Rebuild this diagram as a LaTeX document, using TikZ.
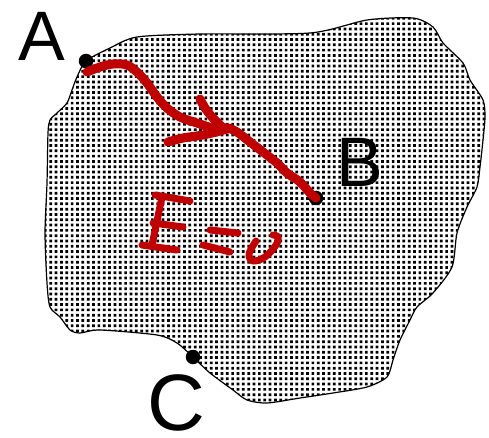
\documentclass[tikz,border=0pt]{standalone}
\usepackage{fontspec}
\setmainfont{Liberation Sans}
\definecolor{ink}{RGB}{192,0,0}
\begin{document}
\begin{tikzpicture}[x=1pt,y=-1pt,
  redink/.style={draw=ink,line width=9pt,line cap=round,line join=round},
  redpen/.style={draw=ink,line width=7pt,line cap=round,line join=round},
  dotpt/.style={circle,fill=black,inner sep=0pt,minimum size=14.5pt},
  lbl/.style={font=\fontsize{70}{80}\selectfont,anchor=base,inner sep=0pt,text depth=0pt}]
\useasboundingbox (0,0) rectangle (489,438);
\def\blob{plot[smooth cycle,tension=0.45] coordinates{
  (86,61) (110,48) (137,37) (200,34) (310,33) (367,20) (413,18) (433,27)
  (443,43) (463,63) (470,80) (483,100) (485,117) (483,140) (480,167)
  (477,187) (467,207) (457,233) (452,267) (433,293) (417,307) (410,320)
  (400,340) (393,360) (387,377) (367,387) (333,393) (300,398) (267,403)
  (247,400) (233,390) (210,373) (193,357) (177,343) (157,335) (100,330)
  (80,333) (70,330) (60,317) (50,307) (47,283) (45,233) (47,183) (48,133)
  (50,120) (57,113) (67,103) (72,90) (77,77)}}
% region with dot screen
\begin{scope}
  \clip \blob;
  \foreach \i in {0,...,84}{
    \fill[black] \foreach \j in {0,...,74}{
      ({44+\i*5.35},{17+\j*5.3}) rectangle ++(2.7,2.7) };
  }
\end{scope}
\draw[line width=1.2pt] \blob;
% points
\node[dotpt] (A) at (86,61) {};
\node[dotpt] (B) at (316,198) {};
\node[dotpt] (C) at (193,357) {};
\node[lbl] (lA) at (42,61) {A};
\node[lbl] (lB) at (360,186) {B};
\node[lbl,font=\fontsize{80}{90}\selectfont] (lC) at (176,430) {C};
% red path A -> B
\coordinate (s) at (87,72);
\draw[redink] plot[smooth,tension=0.55] coordinates{
  (s) (100,67) (113,64) (127,65) (138,73) (147,83) (157,97) (167,108)
  (180,117) (197,123) (213,128) (227,128) (237,132) (250,142) (263,152)
  (277,163) (287,173) (300,182) (310,193) (B)};
% arrowhead strokes
\draw[redink] plot[smooth,tension=0.5] coordinates{(200,99) (205,108) (213,118) (223,128)};
\draw[redink] plot[smooth,tension=0.5] coordinates{(168,142) (183,138) (203,135) (220,131) (230,128)};
% E = 0
\draw[redpen] (155,195) -- (190,201);
\draw[redpen] (162,197) -- (152,245);
\draw[redpen] (153,223) -- (183,227);
\draw[redpen] (142,245) -- (177,250);
\draw[redpen] (210,230) -- (238,233);
\draw[redpen] (203,245) -- (230,252);
\draw[redpen] plot[smooth,tension=0.6] coordinates{(256,241) (249,254) (253,261) (265,257) (276,245) (278,237) (273,235)};
\end{tikzpicture}
\end{document}
